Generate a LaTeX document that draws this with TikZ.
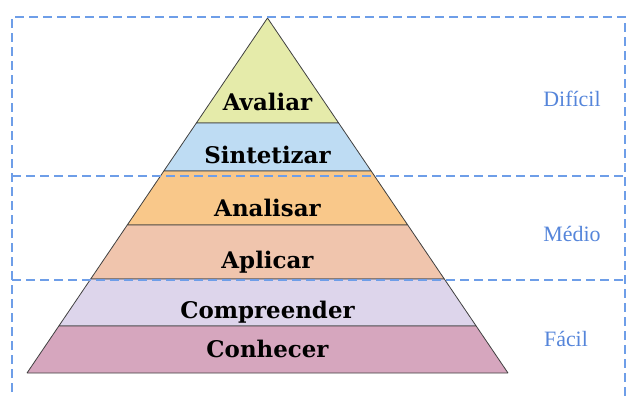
\documentclass[tikz,border=0pt]{standalone}
\usepackage{fontspec}
\setmainfont{Liberation Serif}
\newfontfamily\layerfont{DejaVu Serif}
\usetikzlibrary{calc,positioning}
\definecolor{avalcol}{RGB}{229,235,170}
\definecolor{sintcol}{RGB}{190,220,243}
\definecolor{analcol}{RGB}{249,200,138}
\definecolor{aplicol}{RGB}{240,197,173}
\definecolor{compcol}{RGB}{221,213,235}
\definecolor{conhcol}{RGB}{214,166,190}
\definecolor{boxcol}{RGB}{110,158,232}
\definecolor{levelcol}{RGB}{85,133,218}
\tikzset{
  layer/.style={draw=black!75,line width=0.8bp,line join=bevel},
  layertext/.style={anchor=base,font=\layerfont\bfseries\fontsize{23}{27}\selectfont},
  levelbox/.style={draw=boxcol,line width=1.4bp,dash pattern=on 9bp off 5bp},
  leveltext/.style={text=levelcol,font=\fontsize{22}{26}\selectfont}
}

\begin{document}
\begin{tikzpicture}[x=1bp,y=1bp]
  \useasboundingbox (0,0) rectangle (638,396);
  % Pyramid corners
  \coordinate (apex) at (267.5,378);
  \coordinate (baseL) at (27,23);
  \coordinate (baseR) at (508,23);
  \foreach \name/\t in {a/0.2958,b/0.4310,c/0.5831,d/0.7352,e/0.8676} {
    \coordinate (\name l) at ($(apex)!\t!(baseL)$);
    \coordinate (\name r) at ($(apex)!\t!(baseR)$);
  }
%%
  % Layer: Avaliar
  \draw [layer,fill=avalcol] (apex) -- (ar) -- (al) -- cycle;
  % Layer: Sintetizar
  \draw [layer,fill=sintcol] (al) -- (ar) -- (br) -- (bl) -- cycle;
  % Layer: Analisar
  \draw [layer,fill=analcol] (bl) -- (br) -- (cr) -- (cl) -- cycle;
  % Layer: Aplicar
  \draw [layer,fill=aplicol] (cl) -- (cr) -- (dr) -- (dl) -- cycle;
  % Layer: Compreender
  \draw [layer,fill=compcol] (dl) -- (dr) -- (er) -- (el) -- cycle;
  % Layer: Conhecer
  \draw [layer,fill=conhcol] (el) -- (er) -- (baseR) -- (baseL) -- cycle;
%
  \node [layertext] (avaliar) at (267.5,286) {Avaliar};
  \node [layertext] (sintetizar) at (267.5,233) {Sintetizar};
  \node [layertext] (analisar) at (267.5,180) {Analisar};
  \node [layertext] (aplicar) at (267.5,128) {Aplicar};
  \node [layertext] (compreender) at (267.5,78) {Compreender};
  \node [layertext] (conhecer) at (267.5,39) {Conhecer};
%
  % Level box
  \draw [levelbox] (12,-10) -- (12,379) -- (625,379) -- (625,-10);
  \draw [levelbox] (12,220) -- (625,220);
  \draw [levelbox] (12,116) -- (625,116);
  \node [leveltext] (dificil) at (572,297) {Difícil};
  \node [leveltext] (medio) at (572,162) {Médio};
  \node [leveltext] (facil) at (566,57) {Fácil};
\end{tikzpicture}
\end{document}
